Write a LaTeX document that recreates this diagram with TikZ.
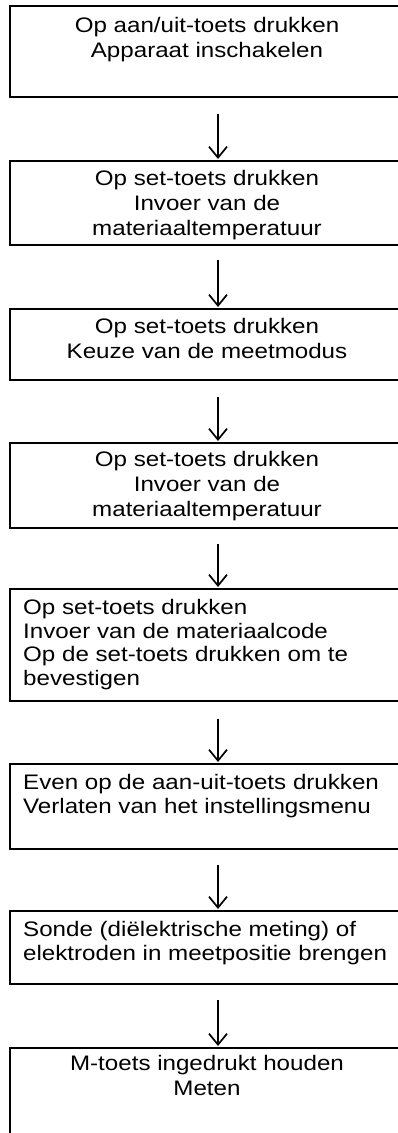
\documentclass[tikz,border=0pt]{standalone}
\usepackage{fontspec}
\setmainfont[FakeStretch=1.15]{Liberation Sans}
\usetikzlibrary{arrows.meta}
\begin{document}
\begin{tikzpicture}[x=1pt,y=-1pt,
  box/.style={draw=black, line width=2pt, inner sep=0pt, minimum width=421pt, anchor=north west},
  ctxt/.style={font=\fontsize{21}{25}\selectfont, inner sep=0pt, align=center, anchor=base},
  ltxt/.style={font=\fontsize{21}{23.5}\selectfont, inner sep=0pt, align=left, anchor=base west},
  arr/.style={line width=1.7pt, shorten >=1pt, -{Straight Barb[length=11pt,width=18pt]}}]
\useasboundingbox (0,0) rectangle (398,1133);
\fill[white] (0,0) rectangle (398,1133);
\coordinate (ax) at (218,0);
\begin{scope}
\clip (0,0) rectangle (398,1133);
\node[box, minimum height=91pt] (b1) at (9,5) {};
\node[box, minimum height=84pt] (b2) at (9,160) {};
\node[box, minimum height=71pt] (b3) at (9,308) {};
\node[box, minimum height=85pt] (b4) at (9,442) {};
\node[box, minimum height=112pt] (b5) at (9,588) {};
\node[box, minimum height=85pt] (b6) at (9,763) {};
\node[box, minimum height=73pt] (b7) at (9,910) {};
\node[box, minimum height=120pt] (b8) at (9,1047) {};
\end{scope}
% anchor=base puts the LAST line's baseline at the given point
\node[ctxt] (t1) at (207,57) {Op aan/uit-toets drukken\\Apparaat inschakelen};
\node[ctxt] (t2) at (207,235) {Op set-toets drukken\\Invoer van de\\materiaaltemperatuur};
\node[ctxt] (t3) at (207,358) {Op set-toets drukken\\Keuze van de meetmodus};
\node[ctxt] (t4) at (207,516) {Op set-toets drukken\\Invoer van de\\materiaaltemperatuur};
\node[ltxt] (t5) at (23,685) {Op set-toets drukken\\Invoer van de materiaalcode\\Op de set-toets drukken om te\\bevestigen};
\node[ltxt] (t6) at (23,813) {Even op de aan-uit-toets drukken\\Verlaten van het instellingsmenu};
\node[ltxt] (t7) at (23,960) {Sonde (diëlektrische meting) of\\elektroden in meetpositie brengen};
\node[ctxt] (t8) at (207,1095) {M-toets ingedrukt houden\\Meten};
\draw[arr] ([yshift=-16pt]b1.south -| ax) -- (b2.north -| ax);
\draw[arr] ([yshift=-14pt]b2.south -| ax) -- (b3.north -| ax);
\draw[arr] ([yshift=-16pt]b3.south -| ax) -- (b4.north -| ax);
\draw[arr] ([yshift=-15pt]b4.south -| ax) -- (b5.north -| ax);
\draw[arr] ([yshift=-17pt]b5.south -| ax) -- (b6.north -| ax);
\draw[arr] ([yshift=-15pt]b6.south -| ax) -- (b7.north -| ax);
\draw[arr] ([yshift=-15pt]b7.south -| ax) -- (b8.north -| ax);
\end{tikzpicture}
\end{document}
